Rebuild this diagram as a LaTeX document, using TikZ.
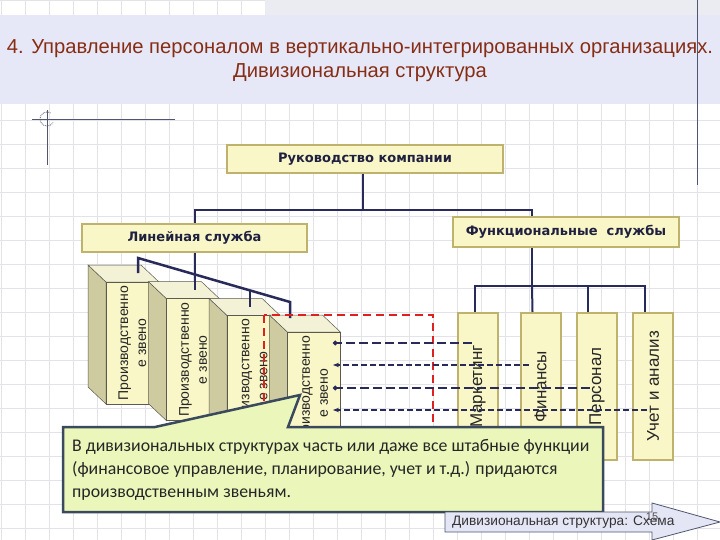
\documentclass[tikz,border=0pt]{standalone}
\usepackage{fontspec}
\setmainfont{Liberation Sans}
\newfontfamily\headfont{DejaVu Sans}
\newfontfamily\notefont{Carlito}
\usetikzlibrary{arrows.meta}
\definecolor{bandc}{RGB}{230,232,248}
\definecolor{stripc}{RGB}{234,236,241}
\definecolor{gridc}{RGB}{226,226,232}
\definecolor{decoc}{RGB}{80,86,110}
\definecolor{titlec}{RGB}{135,45,20}
\definecolor{boxfill}{RGB}{249,247,200}
\definecolor{boxline}{RGB}{190,178,108}
\definecolor{headc}{RGB}{32,32,64}
\definecolor{linkc}{RGB}{40,42,90}
\definecolor{sidec}{RGB}{206,203,160}
\definecolor{topc}{RGB}{243,241,214}
\definecolor{edgec}{RGB}{90,90,80}
\definecolor{redc}{RGB}{222,32,32}
\definecolor{notefill}{RGB}{234,246,186}
\definecolor{noteline}{RGB}{58,74,92}
\definecolor{tagfill}{RGB}{228,230,246}
\begin{document}
\begin{tikzpicture}[x=1pt,y=-1pt]
\tikzset{
  head/.style={draw=boxline, line width=2pt, fill=boxfill, inner sep=0pt, text=headc,
    font=\headfont\bfseries\fontsize{13}{15}\selectfont},
  func/.style={draw=boxline, line width=2pt, fill=boxfill, rotate=90, minimum height=40pt,
    minimum width=147pt, inner sep=0pt, align=center, text=black!85,
    font=\fontsize{17}{19}\selectfont},
  zveno/.style={draw=edgec, line width=0.5pt, fill=boxfill, rotate=90, minimum width=122pt,
    minimum height=53pt, inner sep=0pt, align=center, text=black!85,
    font=\fontsize{14}{18}\selectfont},
  link/.style={draw=linkc, line width=2pt},
  thickdash/.style={draw=linkc, line width=2pt, dash pattern=on 9pt off 4pt, -{Circle[length=4.5pt]}},
  thindash/.style={draw=linkc, line width=1.1pt, dash pattern=on 6pt off 3pt, -{Stealth[length=6pt,width=4.5pt]}},
  deco/.style={draw=decoc, line width=0.8pt}
}
\useasboundingbox (0,0) rectangle (720,540);
\fill[white] (0,0) rectangle (720,540);
\foreach \gx in {1,25,...,721} \draw[gridc, line width=0.7pt] (\gx,0) -- (\gx,540);
\foreach \gy in {0,24,...,540} \draw[gridc, line width=0.7pt] (0,\gy) -- (720,\gy);
\fill[stripc] (265,0) rectangle (720,15);
\fill[bandc] (0,15) rectangle (720,104);
\draw[deco] (697,0) -- (697,185);
\draw[deco] (32,119) -- (175,119);
\draw[deco] (47,110) -- (47,165);
\draw[deco, densely dotted] (47,119) ++(60:7pt) arc[start angle=60, end angle=330, radius=7pt];

\node[text=titlec, align=center, font=\fontsize{20.2}{24}\selectfont] (title) at (360,61)
  {4. Управление персоналом в вертикально-интегрированных организациях.\\Дивизиональная структура};

\node[head, minimum width=276pt, minimum height=28pt] (ruk) at (365,159) {Руководство компании};
\node[head, minimum width=225pt, minimum height=28pt] (lin) at (194.5,238) {Линейная служба};
\node[head, minimum width=226pt, minimum height=30pt] (fun) at (566,232) {Функциональные\ \ службы};

\draw[link] ([xshift=-2pt]ruk.south) -- ++(0,36) coordinate (j);
\draw[link] (lin.north) |- (j) -| ([xshift=-34pt]fun.north);

\node[func] (mar) at (478,386.5) {Маркетинг};
\node[func] (fin) at (540.5,386.5) {Финансы};
\node[func] (per) at (597,386.5) {Персонал};
\node[func] (uch) at (653,386.5) {Учет и анализ};

\coordinate (k) at (532,286);
\draw[link] ([xshift=-34pt]fun.south) -- (k);
\draw[link] ([xshift=-3pt]mar.east) |- (k) -| ([xshift=-8pt]uch.east);
\draw[link] (k) -- ([xshift=-8pt]fin.east);
\draw[link] ([xshift=-9pt]per.east) -- ([xshift=-9pt]per.east |- k);

\foreach \i [evaluate=\i as \x using 106+60.5*(\i-1), evaluate=\i as \y using 282+16.7*(\i-1)] in {1,...,4} {
  \filldraw[fill=sidec, draw=edgec, line width=0.5pt] (\x-18,\y-17) -- (\x,\y) -- (\x,\y+122) -- (\x-18,\y+105) -- cycle;
  \filldraw[fill=topc, draw=edgec, line width=0.5pt] (\x-18,\y-17) -- (\x+35,\y-17) -- (\x+53,\y) -- (\x,\y) -- cycle;
  \node[zveno] (zv\i) at (\x+26.5,\y+61) {Производственно\\е звено};
}

\coordinate (t1) at (138,273);
\coordinate (t2) at (194.5,290);
\coordinate (t3) at (250,307);
\coordinate (t4) at (290,318);
\coordinate (b1) at (138,258);
\coordinate (b3) at (250,290.4);
\coordinate (b4) at (290,302);
\draw[link, line width=2.5pt] (t1) -- (b1) -- (b4) -- (t4);
\draw[link] (b3) -- (t3);
\draw[link] (lin.south) -- (t2);

\draw[redc, line width=2pt, dash pattern=on 8pt off 5pt] (264,315) rectangle (433,440);

\coordinate (in1) at (333,343);
\coordinate (in2) at (333,365);
\coordinate (in3) at (333,388);
\coordinate (in4) at (333,410);
\draw[thickdash] (mar.center |- in1) ++(-6,0) -- (in1);
\draw[thindash] (fin.center |- in2) ++(-12,0) -- (in2);
\draw[thickdash] (per.center |- in3) ++(-7,0) -- (in3);
\draw[thindash] (uch.center |- in4) ++(-6,0) -- (in4);

\filldraw[fill=notefill, draw=noteline, line width=2.5pt, line join=miter]
  (63,427) -- (155,427) -- (300,395) -- (288,427) -- (603,427) -- (603,512) -- (63,512) -- cycle;
\node[anchor=west, align=left, inner sep=0pt, text=black!85, font=\notefont\fontsize{17.8}{23}\selectfont] (note) at (72,470)
  {В дивизиональных структурах часть или даже все штабные функции\\(финансовое управление, планирование, учет и т.д.) придаются\\производственным звеньям.};

\filldraw[fill=tagfill, draw=decoc, line width=0.8pt]
  (445,512) -- (652,512) -- (652,503) -- (720,522) -- (652,540) -- (652,532) -- (445,532) -- cycle;
\node[anchor=west, inner sep=0pt, text=black!80, font=\fontsize{13.7}{16}\selectfont] (tag) at (452,522) {Дивизиональная структура: Схема};
\node[text=black!70, inner sep=0pt, font=\fontsize{11}{13}\selectfont] (num) at (652,517) {15};
\end{tikzpicture}
\end{document}
